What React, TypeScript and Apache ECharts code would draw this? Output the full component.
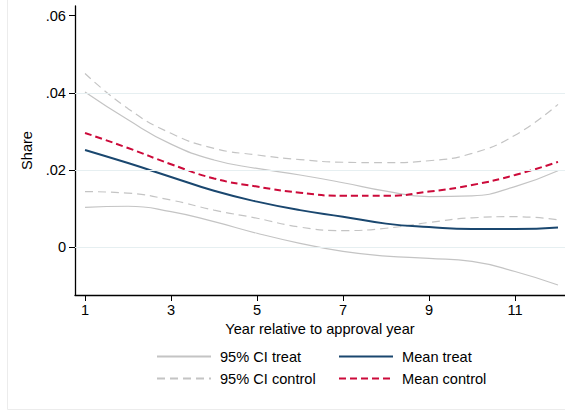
import { useEffect, useRef } from "react";
import * as echarts from "echarts";

const years = [1, 2, 3, 4, 5, 6, 7, 8, 9, 10, 11, 12];
const ciTreatHigh = [0.0402, 0.033, 0.0267, 0.0226, 0.0204, 0.0187, 0.0167, 0.0145, 0.0131, 0.0133, 0.0157, 0.0198];
const ciTreatLow = [0.0103, 0.0106, 0.0092, 0.0066, 0.0036, 0.001, -0.0011, -0.0023, -0.0029, -0.0037, -0.0063, -0.0098];
const ciControlHigh = [0.045, 0.0359, 0.0295, 0.0256, 0.0239, 0.0227, 0.022, 0.0219, 0.0224, 0.0243, 0.029, 0.037];
const ciControlLow = [0.0144, 0.014, 0.0122, 0.0096, 0.0075, 0.0052, 0.0043, 0.0049, 0.0064, 0.0076, 0.0079, 0.0071];
const meanTreat = [0.0252, 0.0218, 0.0182, 0.0146, 0.0118, 0.0096, 0.0079, 0.0061, 0.0052, 0.0047, 0.0047, 0.0051];
const meanControl = [0.0296, 0.0257, 0.0215, 0.0178, 0.0157, 0.0141, 0.0133, 0.0133, 0.0144, 0.0161, 0.0187, 0.0221];

const yTicks = [0, 0.02, 0.04, 0.06];
const yGrid = [0, 0.02, 0.04];
const xTicks = [1, 3, 5, 7, 9, 11];

const FONT = "'Liberation Sans', Arial, sans-serif";
const FS = 14.6;
const GRAY = "#c4c4c4";
const NAVY = "#1a476f";
const RED = "#cc0a3a";

const pairs = (ys: number[]) => years.map((x, i) => [x, ys[i]]);

export default function App() {
  const ref = useRef<HTMLDivElement>(null);

  useEffect(() => {
    const el = ref.current;
    if (!el) return;
    const chart = echarts.init(el, undefined, { renderer: "svg" });
    const line = (name: string, data: number[], color: string, width: number, dash: any) => ({
      name,
      type: "line",
      data: pairs(data),
      smooth: true,
      symbol: "none",
      lineStyle: { color, width, type: dash },
      itemStyle: { color },
    });
    const legendBase = {
      orient: "vertical",
      top: 349,
      padding: 0,
      itemWidth: 54,
      itemHeight: 14,
      itemGap: 7,
      itemStyle: { opacity: 0 },
      textStyle: { fontSize: FS, lineHeight: 14, color: "#000", padding: [0, 0, 0, 4], fontFamily: FONT },
    };
    chart.setOption({
      animation: false,
      backgroundColor: "#ffffff",
      textStyle: { fontFamily: FONT },
      grid: { left: 75, right: 0, top: 6, bottom: 115 },
      legend: [
        { ...legendBase, left: 156, data: ["95% CI treat", "95% CI control"] },
        { ...legendBase, left: 338, data: ["Mean treat", "Mean control"] },
      ],
      xAxis: {
        type: "value",
        min: 0.767,
        max: 12.163,
        name: "Year relative to approval year",
        nameLocation: "middle",
        nameGap: 22,
        nameTextStyle: { fontSize: FS, color: "#000", fontFamily: FONT },
        axisLine: { onZero: false, lineStyle: { color: "#000", width: 1.3 } },
        axisTick: { customValues: xTicks, length: 6, lineStyle: { color: "#000" } },
        axisLabel: { customValues: xTicks, fontSize: FS, color: "#000", margin: 7, fontFamily: FONT },
        splitLine: { show: false },
      },
      yAxis: {
        type: "value",
        min: -0.0124,
        max: 0.0625,
        name: "Share",
        nameLocation: "middle",
        nameGap: 38,
        nameRotate: 90,
        nameTextStyle: { fontSize: FS, color: "#000", fontFamily: FONT },
        axisLine: { show: true, onZero: false, lineStyle: { color: "#000", width: 1.3 } },
        axisTick: { show: true, customValues: yTicks, length: 6, lineStyle: { color: "#000" } },
        axisLabel: {
          customValues: yTicks,
          fontSize: FS,
          color: "#000",
          margin: 9,
          fontFamily: FONT,
          formatter: (v: number) => (Math.abs(v) < 1e-9 ? "0" : v.toFixed(2).replace(/^0/, "")),
        },
        splitLine: { show: false },
      },
      series: [
        {
          name: "grid",
          type: "line",
          data: [],
          z: 1,
          silent: true,
          markLine: {
            silent: true,
            symbol: "none",
            label: { show: false },
            lineStyle: { color: "#e6eff1", type: "solid", width: 1 },
            data: yGrid.map((v) => ({ yAxis: v })),
          },
        },
        line("95% CI treat", ciTreatHigh, GRAY, 1.2, "solid"),
        line("95% CI treat", ciTreatLow, GRAY, 1.2, "solid"),
        line("95% CI control", ciControlHigh, GRAY, 1.2, [8, 5]),
        line("95% CI control", ciControlLow, GRAY, 1.2, [8, 5]),
        line("Mean treat", meanTreat, NAVY, 2, "solid"),
        line("Mean control", meanControl, RED, 2, [7, 4]),
      ],
      graphic: [
        { type: "line", shape: { x1: 7.5, y1: 0, x2: 7.5, y2: 409.5 }, style: { stroke: "#ececec", lineWidth: 1 } },
        { type: "line", shape: { x1: 7.5, y1: 409.5, x2: 565, y2: 409.5 }, style: { stroke: "#ececec", lineWidth: 1 } },
      ],
    });
    return () => chart.dispose();
  }, []);

  return (
    <div
      ref={ref}
      style={{ position: "fixed", left: 0, top: 0, width: 565, height: 410 }}
    />
  );
}
